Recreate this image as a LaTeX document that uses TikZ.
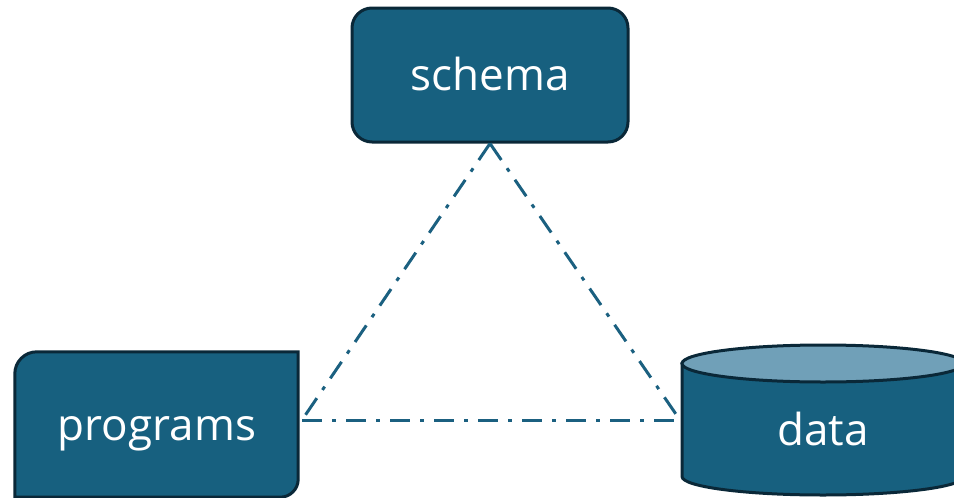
\documentclass[tikz,border=0pt]{standalone}
\usepackage{fontspec}
\setmainfont{Open Sans}
\begin{document}
\begin{tikzpicture}[x=1pt,y=-1pt,
  boxfill/.style={fill=teal0,draw=edge0,line width=3pt},
  label/.style={text=white,font=\fontsize{44}{48}\selectfont,anchor=base,inner sep=0pt},
  link/.style={draw=line0,line width=3pt,dash pattern=on 20pt off 10pt on 4pt off 10pt}]
  \definecolor{teal0}{RGB}{23,96,127}
  \definecolor{edge0}{RGB}{10,40,56}
  \definecolor{top0}{RGB}{112,160,184}
  \definecolor{line0}{RGB}{27,96,128}
  \useasboundingbox (0,0) rectangle (954,498);
  \clip (0,0) rectangle (954,498);

  % schema: rounded box
  \node[boxfill,rounded corners=20pt,minimum width=276pt,minimum height=134pt,inner sep=0pt]
    (schema) at (490,75) {};
  \node[label] (schematext) at (490,90) {schema};

  % programs: box with round top-left and bottom-right corners
  \node[minimum width=283pt,minimum height=145pt,inner sep=0pt] (programs) at (156.5,424.5) {};
  \filldraw[boxfill]
    (programs.south west) -- ([yshift=-22pt]programs.north west)
    arc[start angle=180,end angle=90,radius=22pt] -- (programs.north east)
    -- ([yshift=18pt]programs.south east)
    arc[start angle=0,end angle=-90,radius=18pt] -- cycle;
  \node[label] (programstext) at (157,440) {programs};

  % data: cylinder
  \node[minimum width=282pt,minimum height=150pt,inner sep=0pt] (data) at (823,420) {};
  \filldraw[boxfill] (682,363.5) -- (682,476.5)
    arc[start angle=180,end angle=360,x radius=141pt,y radius=18.5pt]
    -- (964,363.5) -- cycle;
  \filldraw[fill=top0,draw=edge0,line width=3pt] (823,363.5) ellipse[x radius=141pt,y radius=18.5pt];
  \node[label] (datatext) at (823,445) {data};

  % dash-dotted triangle
  \coordinate (pR) at (302,420);
  \coordinate (dL) at (680,420);
  \path[link] (schema.south) -- (pR);
  \path[link] (schema.south) -- (dL);
  \path[link] (pR) -- (dL);
\end{tikzpicture}
\end{document}
